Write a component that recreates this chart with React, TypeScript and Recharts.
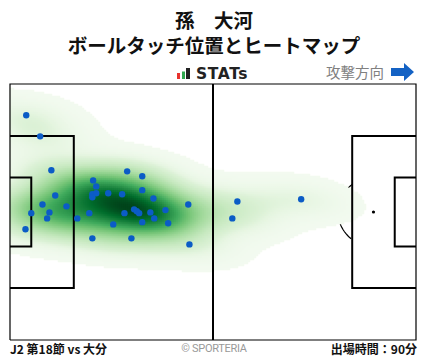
import { ScatterChart, Scatter, XAxis, YAxis } from 'recharts';

// ball touch positions (metres, pitch 105 x 68, attacking to the right)
const touchX = [
  4.2, 7.8, 10.7, 30.3, 34.2, 21.5, 22.3, 11.7, 21.3, 22.3,
  21.3, 25.4, 29.0, 34.2, 37.1, 8.4, 14.6, 46.1, 40.2, 5.5,
  10.2, 20.5, 29.6, 32.1, 32.8, 33.4, 36.3, 9.6, 17.4, 37.3,
  26.7, 34.2, 40.9, 4.0, 21.3, 31.4, 46.4, 58.8, 57.5, 75.3,
];
const touchY = [
  59.7, 54.1, 45.1, 44.8, 43.5, 42.4, 40.8, 38.4, 38.7, 39.0,
  37.9, 39.0, 38.7, 39.8, 37.6, 36.0, 35.5, 36.0, 34.5, 33.7,
  33.9, 33.7, 33.7, 34.7, 34.2, 33.7, 33.9, 32.3, 32.3, 32.3,
  30.7, 31.3, 31.0, 29.4, 27.0, 27.0, 25.4, 36.8, 32.3, 37.4,
];

const touches = touchX.map((x, i) => ({ x, y: touchY[i] }));

const PITCH_L = 105;
const PITCH_W = 68;
const PLOT_W = 406;
const PLOT_H = 256;

// pitch markings
const outline = [{ x: 0, y: 0 }, { x: 105, y: 0 }, { x: 105, y: 68 }, { x: 0, y: 68 }, { x: 0, y: 0 }];
const halfway = [{ x: 52.5, y: 0 }, { x: 52.5, y: 68 }];
const boxLeft = [{ x: 0, y: 13.84 }, { x: 16.5, y: 13.84 }, { x: 16.5, y: 54.16 }, { x: 0, y: 54.16 }];
const boxRight = [{ x: 105, y: 13.84 }, { x: 88.5, y: 13.84 }, { x: 88.5, y: 54.16 }, { x: 105, y: 54.16 }];
const sixLeft = [{ x: 0, y: 24.84 }, { x: 5.5, y: 24.84 }, { x: 5.5, y: 43.16 }, { x: 0, y: 43.16 }];
const sixRight = [{ x: 105, y: 24.84 }, { x: 99.5, y: 24.84 }, { x: 99.5, y: 43.16 }, { x: 105, y: 43.16 }];
const spots = [{ x: 11, y: 34 }, { x: 94, y: 34 }];

const arc = (cx: number, from: number, to: number) => {
  const pts = [];
  for (let a = from; a <= to + 0.01; a += 4) {
    const r = (a * Math.PI) / 180;
    pts.push({ x: cx + 9.15 * Math.cos(r), y: 34 + 9.15 * Math.sin(r) });
  }
  return pts;
};
const arcLeft = arc(11, -53, 53);
const arcRight = arc(94, 127, 233);

// gaussian kde of the touches (scott bandwidth), coloured by density proportion
const NX = 203;
const NY = 128;
const CUT = 0.15;
const buildHeat = () => {
  const n = touchX.length;
  const mx = touchX.reduce((s, v) => s + v, 0) / n;
  const my = touchY.reduce((s, v) => s + v, 0) / n;
  let sxx = 0, syy = 0, sxy = 0;
  for (let i = 0; i < n; i++) {
    const dx = touchX[i] - mx, dy = touchY[i] - my;
    sxx += dx * dx; syy += dy * dy; sxy += dx * dy;
  }
  const f2 = Math.pow(n, -1 / 3);
  const a = (sxx / (n - 1)) * f2, d = (syy / (n - 1)) * f2, b = (sxy / (n - 1)) * f2;
  const det = a * d - b * b;
  const ia = d / det, id = a / det, ib = -b / det;
  const cells = [];
  for (let i = 0; i < NX; i++) {
    for (let j = 0; j < NY; j++) {
      const gx = ((i + 0.5) * PITCH_L) / NX;
      const gy = ((j + 0.5) * PITCH_W) / NY;
      let v = 0;
      for (let k = 0; k < n; k++) {
        const dx = gx - touchX[k], dy = gy - touchY[k];
        v += Math.exp(-0.5 * (ia * dx * dx + 2 * ib * dx * dy + id * dy * dy));
      }
      if (v >= CUT) cells.push({ x: gx, y: gy, v });
    }
  }
  // cumulative share of mass below each cell's density
  const order = cells.slice().sort((p, q) => p.v - q.v);
  const total = order.reduce((s, c) => s + c.v, 0);
  let acc = 0;
  const share = new Map();
  for (const c of order) {
    acc += c.v;
    share.set(c, acc / total);
  }
  return cells.map((c) => ({ x: c.x, y: c.y, fill: greenAt(0.03 + 0.97 * share.get(c)) }));
};

const GREENS = ['#f7fcf5', '#e5f5e0', '#c7e9c0', '#a1d99b', '#74c476', '#41ab5d', '#238b45', '#006d2c', '#00441b'];
function greenAt(t: number) {
  const p = Math.max(0, Math.min(1, t)) * (GREENS.length - 1);
  const i = Math.min(GREENS.length - 2, Math.floor(p));
  const f = p - i;
  const c0 = GREENS[i], c1 = GREENS[i + 1];
  const ch = (s: string, o: number) => parseInt(s.slice(o, o + 2), 16);
  const mix = (o: number) => Math.round(ch(c0, o) + (ch(c1, o) - ch(c0, o)) * f);
  return `rgb(${mix(1)},${mix(3)},${mix(5)})`;
}

const heat = buildHeat();
const cellW = PLOT_W / NX + 0.5;
const cellH = PLOT_H / NY + 0.5;

const nothing = () => <g />;
const heatCell = (p: any) => (
  <rect x={p.cx - cellW / 2} y={p.cy - cellH / 2} width={cellW} height={cellH} fill={p.payload.fill} />
);
const spotShape = (p: any) => <circle cx={p.cx} cy={p.cy} r={1.6} fill="#000" />;
const touchShape = (p: any) => <circle cx={p.cx} cy={p.cy} r={3.2} fill="#0b5cc6" />;

const thin = { stroke: '#000', strokeWidth: 1.2 };
const thick = { stroke: '#000', strokeWidth: 2 };

const cjk = '"Noto Sans CJK JP", "Noto Sans", sans-serif';

export default function App() {
  return (
    <div style={{ position: 'absolute', left: 0, top: 0, width: 428, height: 359, background: '#fff', fontFamily: cjk }}>
      <svg style={{ position: 'absolute', left: 0, top: 0 }} width={428} height={84}>
        <text x={214} y={27.5} textAnchor="middle" fontFamily={cjk} fontWeight={700} fontSize={19.5} fill="#111">孫　大河</text>
        <text x={214} y={52.5} textAnchor="middle" fontFamily={cjk} fontWeight={700} fontSize={19.5} fill="#111">ボールタッチ位置とヒートマップ</text>
        <rect x={177} y={73} width={3} height={6} fill="#e8322e" />
        <rect x={182} y={71.5} width={3} height={7.5} fill="#2fa84f" />
        <rect x={186} y={68} width={4} height={11} fill="#222" />
        <text x={196} y={79} fontFamily="DejaVu Sans" fontWeight={700} fontSize={15.5} letterSpacing={0.6} fill="#222">STATs</text>
        <text x={326} y={78} fontFamily={cjk} fontSize={14.5} fill="#808080">攻撃方向</text>
        <polygon points="391,68 404,68 404,63 414,72 404,81 404,76 391,76" fill="#1462c4" />
      </svg>
      <ScatterChart width={428} height={359} margin={{ top: 84, right: 12, bottom: 19, left: 10 }} style={{ position: 'absolute', left: 0, top: 0 }}>
        <XAxis type="number" dataKey="x" domain={[0, PITCH_L]} hide />
        <YAxis type="number" dataKey="y" domain={[0, PITCH_W]} hide />
        <Scatter data={arcLeft} line={thin} shape={nothing} isAnimationActive={false} />
        <Scatter data={arcRight} line={thin} shape={nothing} isAnimationActive={false} />
        <Scatter data={spots} shape={spotShape} isAnimationActive={false} />
        <Scatter data={heat} shape={heatCell} isAnimationActive={false} />
        <Scatter data={outline} line={thin} shape={nothing} isAnimationActive={false} />
        <Scatter data={halfway} line={thick} shape={nothing} isAnimationActive={false} />
        <Scatter data={boxLeft} line={thick} shape={nothing} isAnimationActive={false} />
        <Scatter data={boxRight} line={thick} shape={nothing} isAnimationActive={false} />
        <Scatter data={sixLeft} line={thick} shape={nothing} isAnimationActive={false} />
        <Scatter data={sixRight} line={thick} shape={nothing} isAnimationActive={false} />
        <Scatter data={touches} shape={touchShape} isAnimationActive={false} />
      </ScatterChart>
      <div style={{ position: 'absolute', left: 10, top: 341, fontSize: 12, fontWeight: 700, lineHeight: '16px', color: '#111' }}>
        J2 第18節 vs 大分
      </div>
      <div style={{ position: 'absolute', left: 0, top: 341, width: 428, textAlign: 'center', fontFamily: 'Roboto', fontSize: 11, letterSpacing: -0.3, lineHeight: '16px', color: '#999' }}>
        © SPORTERIA
      </div>
      <div style={{ position: 'absolute', right: 11, top: 341, fontSize: 12, fontWeight: 700, lineHeight: '16px', color: '#111' }}>
        出場時間：90分
      </div>
    </div>
  );
}
